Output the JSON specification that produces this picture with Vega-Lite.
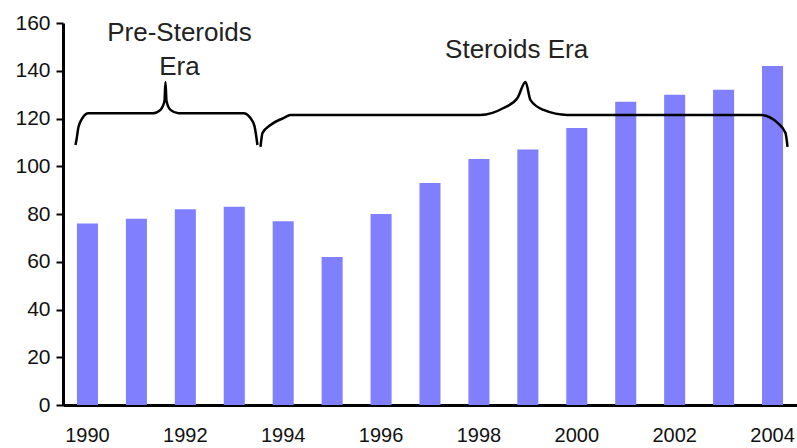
{
  "$schema": "https://vega.github.io/schema/vega-lite/v6.json",
  "width": 734,
  "height": 382,
  "autosize": "none",
  "padding": {"left": 63, "top": 23, "right": 0, "bottom": 43},
  "background": "white",
  "config": {
    "view": {"stroke": null},
    "font": "Liberation Sans",
    "axis": {"grid": false, "labelFont": "Liberation Sans", "labelColor": "#111", "domainColor": "black", "tickColor": "black"}
  },
  "datasets": {
    "bars": [
      {"year": 1990, "value": 76}, {"year": 1991, "value": 78}, {"year": 1992, "value": 82},
      {"year": 1993, "value": 83}, {"year": 1994, "value": 77}, {"year": 1995, "value": 62},
      {"year": 1996, "value": 80}, {"year": 1997, "value": 93}, {"year": 1998, "value": 103},
      {"year": 1999, "value": 107}, {"year": 2000, "value": 116}, {"year": 2001, "value": 127},
      {"year": 2002, "value": 130}, {"year": 2003, "value": 132}, {"year": 2004, "value": 142}
    ],
    "braces": [
      {"brace": "pre", "i": 0, "bx": 1989.755, "by": 108.9},
      {"brace": "pre", "i": 1, "bx": 1989.775, "by": 111.0},
      {"brace": "pre", "i": 2, "bx": 1989.816, "by": 116.4},
      {"brace": "pre", "i": 3, "bx": 1989.898, "by": 120.2},
      {"brace": "pre", "i": 4, "bx": 1990.02, "by": 122.2},
      {"brace": "pre", "i": 5, "bx": 1991.349, "by": 122.2},
      {"brace": "pre", "i": 6, "bx": 1991.492, "by": 123.6},
      {"brace": "pre", "i": 7, "bx": 1991.574, "by": 127.3},
      {"brace": "pre", "i": 8, "bx": 1991.594, "by": 135.3},
      {"brace": "pre", "i": 9, "bx": 1991.615, "by": 127.3},
      {"brace": "pre", "i": 10, "bx": 1991.696, "by": 123.6},
      {"brace": "pre", "i": 11, "bx": 1991.86, "by": 122.2},
      {"brace": "pre", "i": 12, "bx": 1993.188, "by": 122.2},
      {"brace": "pre", "i": 13, "bx": 1993.331, "by": 120.2},
      {"brace": "pre", "i": 14, "bx": 1993.413, "by": 116.8},
      {"brace": "pre", "i": 15, "bx": 1993.474, "by": 108.9},
      {"brace": "ster", "i": 0, "bx": 1993.536, "by": 108.1},
      {"brace": "ster", "i": 1, "bx": 1993.577, "by": 113.9},
      {"brace": "ster", "i": 2, "bx": 1993.74, "by": 117.3},
      {"brace": "ster", "i": 3, "bx": 1994.006, "by": 120.2},
      {"brace": "ster", "i": 4, "bx": 1994.149, "by": 121.5},
      {"brace": "ster", "i": 5, "bx": 1998.032, "by": 121.5},
      {"brace": "ster", "i": 6, "bx": 1998.502, "by": 124.4},
      {"brace": "ster", "i": 7, "bx": 1998.788, "by": 128.6},
      {"brace": "ster", "i": 8, "bx": 1998.952, "by": 135.3},
      {"brace": "ster", "i": 9, "bx": 1999.054, "by": 127.7},
      {"brace": "ster", "i": 10, "bx": 1999.32, "by": 123.6},
      {"brace": "ster", "i": 11, "bx": 1999.81, "by": 121.5},
      {"brace": "ster", "i": 12, "bx": 2003.754, "by": 121.5},
      {"brace": "ster", "i": 13, "bx": 2004.102, "by": 118.2},
      {"brace": "ster", "i": 14, "bx": 2004.265, "by": 113.9},
      {"brace": "ster", "i": 15, "bx": 2004.306, "by": 108.1}
    ],
    "labels": [
      {"tx": 1991.88, "ty": 155.8, "text": "Pre-Steroids"},
      {"tx": 1991.88, "ty": 141.6, "text": "Era"},
      {"tx": 1998.77, "ty": 148.7, "text": "Steroids Era"}
    ]
  },
  "layer": [
    {
      "data": {"name": "bars"},
      "mark": {"type": "bar", "color": "#8080ff"},
      "encoding": {
        "x": {
          "field": "year", "type": "ordinal",
          "scale": {"paddingInner": 0.57, "paddingOuter": 0.285},
          "axis": {"title": null, "values": [1990, 1992, 1994, 1996, 1998, 2000, 2002, 2004], "labelAngle": 0, "ticks": false, "labelFontSize": 20, "labelPadding": 20, "domainWidth": 3}
        },
        "y": {
          "field": "value", "type": "quantitative",
          "scale": {"domain": [0, 160], "nice": false},
          "axis": {"title": null, "values": [0, 20, 40, 60, 80, 100, 120, 140, 160], "tickSize": 7, "tickWidth": 2, "labelFontSize": 21, "labelPadding": 6, "domainWidth": 3}
        }
      }
    },
    {
      "data": {"name": "braces"},
      "mark": {"type": "line", "color": "black", "strokeWidth": 2.5, "interpolate": "monotone"},
      "encoding": {
        "x": {"field": "bx", "type": "quantitative", "scale": {"domain": [1989.5, 2004.5], "nice": false, "zero": false}, "axis": null},
        "y": {"field": "by", "type": "quantitative"},
        "detail": {"field": "brace"},
        "order": {"field": "i"}
      }
    },
    {
      "data": {"name": "labels"},
      "mark": {"type": "text", "fontSize": 26, "color": "#222", "align": "center", "baseline": "middle", "font": "Liberation Sans"},
      "encoding": {
        "x": {"field": "tx", "type": "quantitative", "scale": {"domain": [1989.5, 2004.5], "nice": false, "zero": false}, "axis": null},
        "y": {"field": "ty", "type": "quantitative"},
        "text": {"field": "text"}
      }
    }
  ],
  "resolve": {"scale": {"x": "independent"}}
}
